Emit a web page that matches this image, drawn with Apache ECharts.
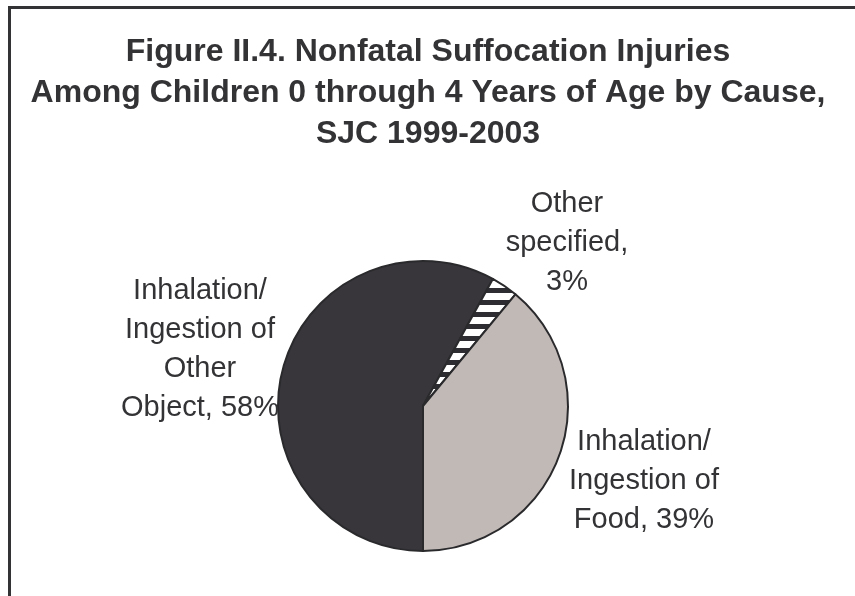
<!DOCTYPE html>
<html>
<head>
<meta charset="utf-8">
<script src="https://cdn.jsdelivr.net/npm/echarts@6/dist/echarts.min.js"></script>
<style>
  html, body { margin: 0; padding: 0; background: #fff; }
  #main { width: 855px; height: 596px; }
</style>
</head>
<body>
<div id="main"></div>
<script>
// data
var causes = ['Inhalation/\nIngestion of\nOther\nObject', 'Other\nspecified', 'Inhalation/\nIngestion of\nFood'];
var shares = [58, 3, 39];

// where each label block sits (centre of text)
var labelPos = [[200, 349], [567, 243], [644, 481]];

// striped fill for "Other specified"
function stripes() {
  var c = document.createElement('canvas');
  c.width = 12;
  c.height = 12;
  var ctx = c.getContext('2d');
  ctx.fillStyle = '#ffffff';
  ctx.fillRect(0, 0, 12, 12);
  ctx.fillStyle = '#2e2d31';
  ctx.fillRect(0, 0, 12, 5);
  return c;
}

var fills = ['#38363b', { image: stripes(), repeat: 'repeat' }, '#c1b9b6'];

var chart = echarts.init(document.getElementById('main'), null, { renderer: 'canvas' });

var option = {
  animation: false,
  backgroundColor: '#fff',
  title: {
    text: 'Figure II.4. Nonfatal Suffocation Injuries\nAmong Children 0 through 4 Years of Age by Cause,\nSJC 1999-2003',
    left: 423,
    top: 27,
    textAlign: 'center',
    textStyle: {
      fontFamily: 'Liberation Sans',
      fontSize: 32,
      fontWeight: 'bold',
      lineHeight: 41,
      color: '#333336'
    }
  },
  graphic: [{
    type: 'polyline',
    shape: { points: [[9.5, 596], [9.5, 7.5], [855, 7.5]] },
    style: { stroke: '#333336', lineWidth: 3, fill: null }
  }],
  series: [{
    type: 'pie',
    center: [423, 406],
    radius: 145,
    startAngle: -90,
    clockwise: true,
    avoidLabelOverlap: false,
    emphasis: { disabled: true },
    itemStyle: { borderColor: '#2a2a2d', borderWidth: 2 },
    label: {
      show: true,
      position: 'outside',
      formatter: function (p) {
        // the short slice puts its value on its own line
        var sep = p.dataIndex === 1 ? ',\n' : ', ';
        return p.name + sep + p.value + '%';
      },
      fontFamily: 'Liberation Sans',
      fontSize: 29,
      lineHeight: 39,
      color: '#333336',
      align: 'center'
    },
    labelLine: { show: false },
    labelLayout: function (p) {
      var pos = labelPos[p.dataIndex];
      return { x: pos[0], y: pos[1], align: 'center', verticalAlign: 'middle' };
    },
    data: causes.map(function (name, i) {
      return { name: name, value: shares[i], itemStyle: { color: fills[i] } };
    })
  }]
};

chart.setOption(option);
</script>
</body>
</html>
